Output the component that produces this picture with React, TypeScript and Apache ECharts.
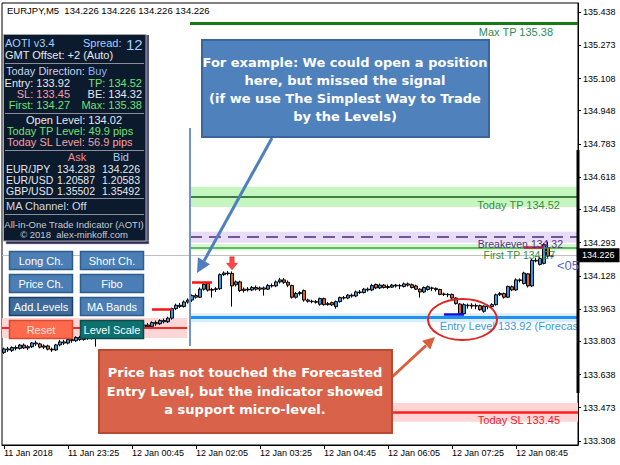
import React, { useEffect, useRef } from 'react';
import * as echarts from 'echarts';

// ---- chart data -------------------------------------------------------
const symbolName = 'EURJPY,M5';

// bar index of each time label on the bottom axis
const labelBars = [0, 16, 32, 48, 64, 80, 96, 112, 128];
const timeLabels = [
  '11 Jan 2018', '11 Jan 23:25', '12 Jan 00:45', '12 Jan 02:05', '12 Jan 03:25',
  '12 Jan 04:45', '12 Jan 06:05', '12 Jan 07:25', '12 Jan 08:45',
];

const priceTicks = [
  133.308, 133.473, 133.638, 133.803, 133.963, 134.128, 134.293,
  134.458, 134.618, 134.783, 134.948, 135.108, 135.273, 135.438,
];

// M5 bars: [open, close, low, high]
const candles: [number, number, number, number][] = [
  [133.748, 133.765, 133.740, 133.772], [133.765, 133.760, 133.750, 133.775],
  [133.758, 133.772, 133.750, 133.778], [133.772, 133.768, 133.758, 133.782],
  [133.768, 133.784, 133.762, 133.790], [133.784, 133.770, 133.765, 133.792],
  [133.770, 133.776, 133.760, 133.784], [133.776, 133.795, 133.770, 133.800],
  [133.795, 133.790, 133.780, 133.806], [133.790, 133.774, 133.768, 133.796],
  [133.774, 133.780, 133.765, 133.788], [133.780, 133.764, 133.758, 133.786],
  [133.764, 133.760, 133.750, 133.772], [133.760, 133.785, 133.755, 133.790],
  [133.785, 133.800, 133.778, 133.810], [133.800, 133.794, 133.785, 133.810],
  [133.794, 133.812, 133.788, 133.818], [133.812, 133.806, 133.796, 133.822],
  [133.806, 133.822, 133.800, 133.828], [133.822, 133.812, 133.805, 133.830],
  [133.812, 133.826, 133.806, 133.834], [133.826, 133.820, 133.810, 133.836],
  [133.820, 133.832, 133.812, 133.840], [133.832, 133.824, 133.776, 133.842],
  [133.824, 133.838, 133.818, 133.846], [133.838, 133.830, 133.822, 133.848],
  [133.830, 133.846, 133.826, 133.852], [133.846, 133.838, 133.830, 133.856],
  [133.838, 133.852, 133.832, 133.860], [133.852, 133.845, 133.838, 133.862],
  [133.845, 133.860, 133.840, 133.868], [133.860, 133.850, 133.842, 133.870],
  [133.850, 133.866, 133.845, 133.874], [133.866, 133.874, 133.858, 133.882],
  [133.874, 133.868, 133.860, 133.884], [133.868, 133.884, 133.862, 133.890],
  [133.884, 133.876, 133.868, 133.894], [133.876, 133.896, 133.870, 133.902],
  [133.896, 133.890, 133.880, 133.906], [133.890, 133.906, 133.884, 133.912],
  [133.906, 133.900, 133.892, 133.916], [133.900, 133.918, 133.894, 133.925],
  [133.918, 133.965, 133.910, 133.970], [133.965, 133.982, 133.958, 133.990],
  [133.982, 133.976, 133.968, 133.994], [133.976, 133.998, 133.970, 134.006],
  [133.998, 134.008, 133.990, 134.016], [134.008, 134.030, 133.998, 134.036],
  [134.030, 134.022, 134.015, 134.040], [134.022, 134.062, 134.018, 134.070],
  [134.062, 134.086, 134.055, 134.092], [134.092, 134.057, 134.050, 134.098],
  [134.057, 134.060, 134.020, 134.068], [134.060, 134.064, 134.048, 134.072],
  [134.064, 134.134, 134.058, 134.140], [134.134, 134.142, 134.128, 134.150],
  [134.142, 134.139, 134.130, 134.152], [134.140, 134.078, 133.975, 134.150],
  [134.084, 134.098, 134.075, 134.105], [134.098, 134.055, 134.048, 134.104],
  [134.055, 134.062, 134.045, 134.070], [134.062, 134.058, 134.050, 134.072],
  [134.058, 134.070, 134.052, 134.078], [134.070, 134.062, 134.055, 134.080],
  [134.062, 134.068, 134.052, 134.075], [134.068, 134.062, 134.030, 134.075],
  [134.062, 134.080, 134.058, 134.088], [134.080, 134.078, 134.070, 134.090],
  [134.078, 134.098, 134.072, 134.105], [134.098, 134.108, 134.090, 134.118],
  [134.108, 134.096, 134.088, 134.118], [134.096, 134.082, 134.072, 134.105],
  [134.080, 134.022, 134.015, 134.084], [134.022, 134.040, 134.015, 134.048],
  [134.040, 134.045, 134.030, 134.052], [134.055, 134.008, 134.000, 134.060],
  [134.008, 134.002, 133.995, 134.015], [134.002, 134.000, 133.992, 134.010],
  [134.000, 133.997, 133.990, 134.008], [133.987, 134.015, 133.980, 134.020],
  [134.015, 133.985, 133.980, 134.020], [133.985, 133.990, 133.980, 133.998],
  [133.995, 133.984, 133.978, 134.000], [133.975, 134.000, 133.965, 134.005],
  [134.000, 134.020, 133.995, 134.025], [134.020, 134.018, 134.010, 134.028],
  [134.018, 134.032, 134.012, 134.038], [134.032, 134.028, 134.020, 134.040],
  [134.028, 134.048, 134.022, 134.055], [134.048, 134.045, 134.038, 134.058],
  [134.045, 134.062, 134.040, 134.068], [134.062, 134.058, 134.050, 134.070],
  [134.058, 134.080, 134.052, 134.088], [134.085, 134.068, 134.062, 134.090],
  [134.068, 134.082, 134.062, 134.090], [134.082, 134.070, 134.065, 134.088],
  [134.070, 134.075, 134.062, 134.085], [134.072, 134.082, 134.068, 134.088],
  [134.082, 134.078, 134.070, 134.088], [134.078, 134.080, 134.062, 134.088],
  [134.075, 134.088, 134.070, 134.095], [134.088, 134.082, 134.075, 134.095],
  [134.084, 134.070, 134.065, 134.090], [134.078, 134.062, 134.058, 134.084],
  [134.062, 134.048, 134.020, 134.066], [134.048, 134.070, 134.042, 134.075],
  [134.060, 134.074, 134.055, 134.080], [134.068, 134.066, 134.052, 134.074],
  [134.066, 134.060, 134.050, 134.070], [134.060, 134.036, 134.032, 134.064],
  [134.036, 134.038, 134.028, 134.045], [134.036, 134.034, 134.022, 134.042],
  [134.036, 134.018, 134.012, 134.040], [134.018, 133.990, 133.985, 134.022],
  [133.988, 133.940, 133.935, 133.992], [133.940, 133.985, 133.935, 133.992],
  [133.980, 133.982, 133.965, 133.990], [133.982, 133.978, 133.965, 133.992],
  [133.978, 133.980, 133.962, 133.990], [133.980, 133.960, 133.955, 133.985],
  [133.952, 133.978, 133.945, 133.982], [133.978, 133.975, 133.962, 133.985],
  [133.975, 133.985, 133.968, 133.992], [133.985, 134.034, 133.980, 134.040],
  [134.034, 134.040, 134.028, 134.048], [134.040, 134.022, 134.015, 134.045],
  [134.022, 134.075, 134.018, 134.080], [134.074, 134.058, 134.052, 134.080],
  [134.058, 134.108, 134.052, 134.115], [134.108, 134.105, 134.095, 134.115],
  [134.090, 134.142, 134.085, 134.148], [134.138, 134.078, 134.070, 134.142],
  [134.078, 134.205, 134.072, 134.212], [134.205, 134.202, 134.195, 134.218],
  [134.185, 134.215, 134.180, 134.220], [134.190, 134.283, 134.185, 134.290],
  [134.268, 134.226, 134.218, 134.298], [134.226, 134.226, 134.226, 134.226],
];

// indicator levels of the day
const maxTp = 135.38;
const todayTp = 134.52;
const breakeven = 134.32;
const firstTp = 134.27;
const entryLevel = 133.92;
const todaySl = 133.45;
const prevDayLevel = 133.869;

// micro-levels: [first bar, last bar, price]
const microLevels: [number, number, number][] = [
  [37, 42, 133.963],
  [47, 52, 134.097],
  [110, 115, 133.938],
  [130, 135, 134.271],
];
const microColors = ['#ff1010', '#ff1010', '#1010e0', '#d11a4a'];

// sell signal arrow
const signalBar = 57;
const signalPrice = 134.19;

// panel quotes
const quotePairs = ['EUR/JPY', 'EUR/USD', 'GBP/USD'];
const askQuotes = ['134.238', '1.20587', '1.35502'];
const bidQuotes = ['134.226', '1.20583', '1.35492'];

const buttonRows = [
  ['Long Ch.', 'Short Ch.'],
  ['Price Ch.', 'Fibo'],
  ['Add.Levels', 'MA Bands'],
  ['Reset', 'Level Scale'],
];

const noteTop = 'For example: We could open a position\nhere, but missed the signal\n(if we use The Simplest Way to Trade\nby the Levels)';
const noteBottom = 'Price has not touched the Forecasted\nEntry Level, but the indicator showed\na support micro-level.';

// ---- layout / style ---------------------------------------------------
const FONT = '"Liberation Sans", Arial, sans-serif';
const BOLD_FONT = '"DejaVu Sans", sans-serif';
const X_MIN = -0.5;
const X_MAX = 143.5;
const LEVEL_START = 46.5;
const Y_MIN = 133.288;
const Y_MAX = 135.483;

function levelPair(price: number, name: string, color: string, width: number, labelColor: string, dist: number[], type: any = 'solid', size = 11) {
  return [
    {
      coord: [LEVEL_START, price],
      lineStyle: { color, width, type },
      label: {
        show: true, position: 'insideEndBottom', formatter: name, color: labelColor,
        fontSize: size, fontFamily: FONT, distance: dist, lineHeight: size + 1,
      },
    },
    { coord: [X_MAX, price] },
  ];
}

function band(x0: number, x1: number, lo: number, hi: number, color: string) {
  return [{ coord: [x0, lo], itemStyle: { color } }, { coord: [x1, hi] }];
}

function txt(x: number, y: number, text: string, fill: string, size = 11, align = 'left', extra: any = {}) {
  return {
    type: 'text', x, y, z: 120, silent: true,
    style: { text, fill, fontSize: size, fontFamily: FONT, align, verticalAlign: 'middle', lineHeight: size + 1, ...extra },
  };
}

function buildGraphics() {
  const g: any[] = [];
  const last = candles[candles.length - 1];
  // chart header
  g.push(txt(7, 10, `${symbolName}  ${last[0].toFixed(3)} ${last[3].toFixed(3)} ${last[2].toFixed(3)} ${last[1].toFixed(3)}`, '#000', 9.5));

  // indicator panel
  g.push({ type: 'rect', z: 110, silent: true, shape: { x: 146, y: 35, width: 3, height: 209 }, style: { fill: '#55557a' } });
  g.push({ type: 'rect', z: 110, silent: true, shape: { x: 6, y: 241, width: 143, height: 3 }, style: { fill: '#2a2a4a', stroke: '#b8b0e0', lineWidth: 0.6 } });
  g.push({ type: 'rect', z: 111, silent: true, shape: { x: 3.5, y: 34.5, width: 142.5, height: 206.5 }, style: { fill: '#0b1a2c', stroke: '#a0a4ae', lineWidth: 1 } });
  [63.5, 113.5, 150.5, 198.5, 214.5].forEach((y) => {
    g.push({ type: 'line', z: 112, silent: true, shape: { x1: 5, y1: y, x2: 144, y2: y }, style: { stroke: '#8a8f99', lineWidth: 1 } });
  });
  const white = '#e6e9f0';
  const green = '#74e074';
  const pink = '#f2a2aa';
  const blue = '#a2d0ff';
  g.push(txt(5, 43, 'AOTI v3.4', blue));
  g.push(txt(83, 43, 'Spread:', blue));
  g.push(txt(126, 44, '12', blue, 15));
  g.push(txt(5, 55, 'GMT Offset: +2 (Auto)', white));
  g.push(txt(6, 71, 'Today Direction:', '#c8d4ee'));
  g.push(txt(88, 71, 'Buy', '#8cb8ff'));
  g.push(txt(70, 83, `Entry: ${entryLevel.toFixed(2)}`, white, 11, 'right'));
  g.push(txt(142, 83, `TP: ${todayTp.toFixed(2)}`, green, 11, 'right'));
  g.push(txt(70, 94, `SL: ${todaySl.toFixed(2)}`, pink, 11, 'right'));
  g.push(txt(142, 94, `BE: ${breakeven.toFixed(2)}`, white, 11, 'right'));
  g.push(txt(70, 105, `First: ${firstTp.toFixed(2)}`, green, 11, 'right'));
  g.push(txt(142, 105, `Max: ${maxTp.toFixed(2)}`, green, 11, 'right'));
  g.push(txt(74, 120, 'Open Level: 134.02', white, 11, 'center'));
  g.push(txt(7, 131, 'Today TP Level: 49.9 pips', green));
  g.push(txt(7, 142, 'Today SL Level: 56.9 pips', pink));
  g.push(txt(77, 156.5, 'Ask', '#f08c8c', 11, 'center'));
  g.push(txt(121, 156.5, 'Bid', blue, 11, 'center'));
  quotePairs.forEach((p, i) => {
    const y = 168.5 + i * 11;
    g.push(txt(6, y, p, white, 10.5));
    g.push(txt(95, y, askQuotes[i], white, 10.5, 'right'));
    g.push(txt(140, y, bidQuotes[i], white, 10.5, 'right'));
  });
  g.push(txt(6, 206, 'MA Channel: Off', '#d4d8e0'));
  g.push(txt(74, 224, 'All-in-One Trade Indicator (AOTI)', '#c8ccd4', 9.5, 'center'));
  g.push(txt(74, 234, '© 2018  alex-minkoff.com', '#c8ccd4', 9.5, 'center'));

  // control buttons
  const btnStyle = (label: string) => {
    if (label === 'Reset') return { fill: '#ff6a4d', stroke: '#d84a30', color: '#ffe6e0' };
    if (label === 'Level Scale') return { fill: '#0f7070', stroke: '#0a4c4c', color: '#ffffff' };
    if (label === 'Add.Levels') return { fill: '#3d6c9c', stroke: '#1f3f66', color: '#ffffff' };
    return { fill: '#4a7eb4', stroke: '#2e5c8c', color: '#ffffff' };
  };
  buttonRows.forEach((row, r) => {
    row.forEach((label, c) => {
      const x = 9 + c * 71;
      const y = 251 + r * 23;
      const s = btnStyle(label);
      g.push({ type: 'rect', z: 115, silent: true, shape: { x: x + 0.5, y: y + 0.5, width: 63, height: 18 }, style: { fill: s.fill, stroke: s.stroke, lineWidth: 1.5 } });
      g.push(txt(x + 32, y + 10, label, s.color, 11, 'center'));
    });
  });

  // current-bar thick marker on the right border
  g.push({ type: 'rect', z: 105, silent: true, shape: { x: 576.5, y: 150, width: 3, height: 243 }, style: { fill: '#000' } });

  // countdown text
  g.push(txt(557, 265, '<05', '#5a64c8', 13));

  // upper callout
  g.push({ type: 'line', z: 130, silent: true, shape: { x1: 272, y1: 138, x2: 204, y2: 261 }, style: { stroke: '#4f7fbf', lineWidth: 3 } });
  g.push({ type: 'polygon', z: 130, silent: true, shape: { points: [[197, 273], [210, 264.3], [197.9, 257.3]] }, style: { fill: '#4f7fbf' } });
  g.push({ type: 'rect', z: 131, silent: true, shape: { x: 202, y: 40, width: 287, height: 97 }, style: { fill: '#4f81bd', stroke: '#3a669c', lineWidth: 2 } });
  g.push({
    type: 'text', z: 132, silent: true, x: 345, y: 89,
    style: { text: noteTop, fill: '#fff', fontSize: 13, fontWeight: 'bold', fontFamily: BOLD_FONT, align: 'center', verticalAlign: 'middle', lineHeight: 18 },
  });

  // lower callout
  g.push({ type: 'line', z: 130, silent: true, shape: { x1: 392, y1: 377, x2: 426, y2: 345.5 }, style: { stroke: '#d8603f', lineWidth: 3 } });
  g.push({ type: 'polygon', z: 130, silent: true, shape: { points: [[435, 337], [430.3, 349.6], [422.1, 340.8]] }, style: { fill: '#d8603f' } });
  g.push({ type: 'rect', z: 131, silent: true, shape: { x: 99, y: 350, width: 293, height: 83 }, style: { fill: '#d9634a', stroke: '#b84a32', lineWidth: 2 } });
  g.push({
    type: 'text', z: 132, silent: true, x: 245, y: 391,
    style: { text: noteBottom, fill: '#fff', fontSize: 13, fontWeight: 'bold', fontFamily: BOLD_FONT, align: 'center', verticalAlign: 'middle', lineHeight: 18.5 },
  });

  // highlight ring round the micro-level
  g.push({ type: 'ellipse', z: 125, silent: true, shape: { cx: 462.5, cy: 319.5, rx: 34.5, ry: 20.5 }, style: { fill: 'none', stroke: '#e02424', lineWidth: 2 } });
  return g;
}

export default function App() {
  const ref = useRef<HTMLDivElement>(null);

  useEffect(() => {
    document.body.style.margin = '0';
    if (!ref.current) return;
    const chart = echarts.init(ref.current, undefined, { renderer: 'svg' });
    const lastClose = candles[candles.length - 1][1];

    const option: any = {
      animation: false,
      backgroundColor: '#fff',
      grid: { left: 2, right: 42, top: 3, bottom: 20, show: true, borderColor: '#000', borderWidth: 1, backgroundColor: '#fff' },
      xAxis: {
        type: 'value', min: X_MIN, max: X_MAX,
        axisLine: { show: true, onZero: false, lineStyle: { color: '#000', width: 1 } },
        axisTick: { show: true, length: 4, customValues: labelBars, lineStyle: { color: '#000' } },
        axisLabel: {
          customValues: labelBars, align: 'left', margin: 3, fontSize: 9, fontFamily: FONT, color: '#000',
          formatter: (v: number) => timeLabels[labelBars.indexOf(Math.round(v))] ?? '',
        },
        splitLine: { show: false },
      },
      yAxis: {
        type: 'value', position: 'right', min: Y_MIN, max: Y_MAX,
        axisLine: { show: true, onZero: false, lineStyle: { color: '#000', width: 1 } },
        axisTick: { show: true, length: 3, customValues: priceTicks, lineStyle: { color: '#000' } },
        axisLabel: {
          customValues: priceTicks, margin: 5, fontSize: 9, fontFamily: FONT, color: '#000',
          formatter: (v: number) => v.toFixed(3),
        },
        splitLine: { show: false },
      },
      series: [
        {
          type: 'line', data: [], silent: true, z: 1,
          markArea: {
            silent: true,
            data: [
              band(X_MIN, 45.8, prevDayLevel - 0.05, prevDayLevel + 0.05, '#ffd6d6'),
              band(LEVEL_START, X_MAX, todayTp - 0.05, todayTp + 0.05, '#c6f6c0'),
              band(LEVEL_START, X_MAX, breakeven - 0.027, breakeven + 0.027, '#e8dcf6'),
              band(LEVEL_START, X_MAX, firstTp - 0.016, firstTp + 0.016, '#d4f6d0'),
              band(LEVEL_START, X_MAX, entryLevel - 0.022, entryLevel + 0.022, '#d8ecfa'),
              band(LEVEL_START, X_MAX, todaySl - 0.047, todaySl + 0.047, '#ffd4d4'),
            ],
          },
          markLine: {
            silent: true, symbol: ['none', 'none'], animation: false,
            data: [
              [{ coord: [X_MIN, prevDayLevel], lineStyle: { color: '#f02a2a', width: 2, type: 'solid' }, label: { show: false } }, { coord: [45.8, prevDayLevel] }],
              levelPair(maxTp, `Max TP ${maxTp.toFixed(2)}`, '#167a16', 3, '#2e8b57', [25, 2]),
              levelPair(todayTp, `Today TP ${todayTp.toFixed(2)}`, '#3c7f3c', 2, '#3c8c3c', [18, 2]),
              levelPair(breakeven, `Breakeven ${breakeven.toFixed(2)}`, '#4b2a7a', 1.5, '#5b2c8f', [15, 1], [12, 7], 10.5),
              levelPair(firstTp, `First TP ${firstTp.toFixed(2)}`, '#3fa03f', 1.5, '#3c8c3c', [23, 2], 'solid', 10.5),
              levelPair(entryLevel, `Entry Level ${entryLevel.toFixed(2)} (Forecas`, '#1e90f0', 3, '#3a9ad9', [0, 2]),
              levelPair(todaySl, `Today SL ${todaySl.toFixed(2)}`, '#ff1e1e', 2.5, '#e8202a', [18, 2]),
              [{ coord: [LEVEL_START, 134.862], lineStyle: { color: '#7096cc', width: 2, type: 'solid' }, label: { show: false } }, { coord: [LEVEL_START, 133.780] }],
              ...microLevels.map(([a, b, p], i) => [
                { coord: [a, p], lineStyle: { color: microColors[i], width: 2.5, type: 'solid' }, label: { show: false } },
                { coord: [b, p] },
              ]),
            ],
          },
        },
        {
          type: 'candlestick', name: symbolName, z: 3,
          data: candles.map((c, i) => [i, c[0], c[1], c[2], c[3]]),
          encode: { x: 0, y: [1, 2, 3, 4] },
          barWidth: 3,
          itemStyle: {
            color: '#2e9ae6', color0: '#e0622a',
            borderColor: '#000', borderColor0: '#000', borderColorDoji: '#000', borderWidth: 1,
          },
          markLine: {
            silent: true, symbol: ['none', 'none'], z: 2,
            lineStyle: { color: '#c0c0c0', width: 1, type: 'solid' },
            label: {
              show: true, position: 'end', distance: 1, formatter: () => lastClose.toFixed(3),
              backgroundColor: '#000', color: '#fff', fontSize: 9, fontFamily: FONT, padding: [3, 5, 2, 3],
            },
            data: [{ yAxis: lastClose }],
          },
        },
        {
          type: 'scatter', z: 6, silent: true,
          data: [[signalBar, signalPrice]],
          symbol: 'path://M3,0 L7,0 L7,6 L10,6 L5,12 L0,6 L3,6 Z',
          symbolSize: [11, 13],
          itemStyle: { color: '#ff1a1a', borderColor: '#b00000', borderWidth: 0.5 },
        },
      ],
      graphic: buildGraphics(),
    };

    chart.setOption(option);
    return () => chart.dispose();
  }, []);

  return <div ref={ref} style={{ position: 'fixed', left: 0, top: 0, width: 620, height: 465 }} />;
}
